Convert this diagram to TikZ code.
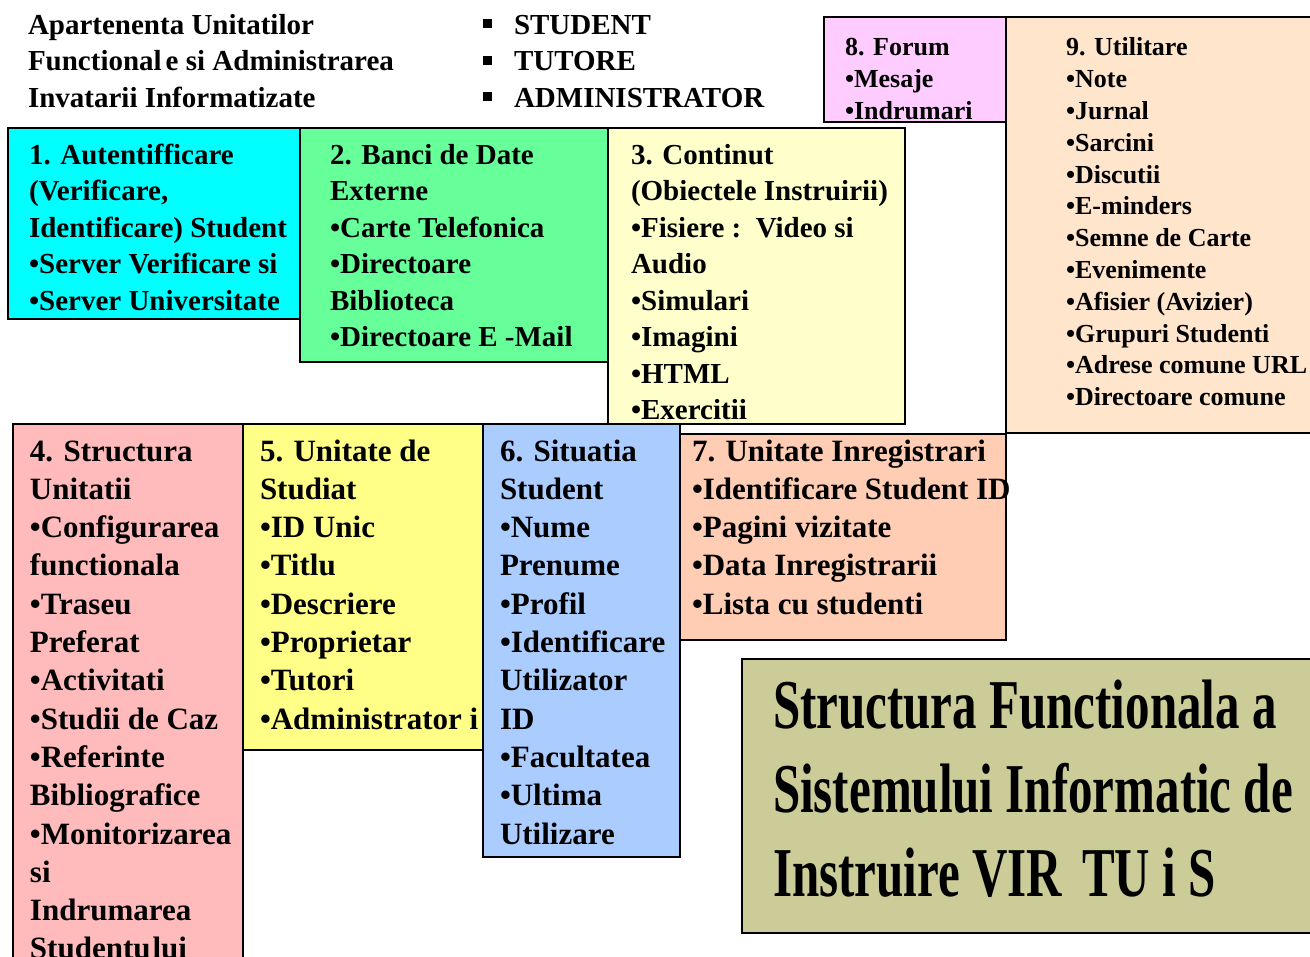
\documentclass[tikz,border=0pt]{standalone}
\usepackage{fontspec}
\setmainfont{Liberation Serif}
\newfontfamily\condfont[FakeStretch=0.70]{Liberation Serif}
\definecolor{cCyan}{HTML}{00FFFF}
\definecolor{cGreen}{HTML}{66FF99}
\definecolor{cLightYellow}{HTML}{FFFFCC}
\definecolor{cForum}{HTML}{FFCCFF}
\definecolor{cUtil}{HTML}{FFE5CC}
\definecolor{cStruct}{HTML}{FFBBBB}
\definecolor{cUnit}{HTML}{FFFF88}
\definecolor{cSit}{HTML}{AACCFF}
\definecolor{cReg}{HTML}{FFCCB4}
\definecolor{cTitle}{HTML}{CCCC99}
\tikzset{
  boxnode/.style={draw=black, line width=2pt, anchor=north west, inner sep=0pt, outer sep=0pt},
  txtbase/.style={anchor=north west, inner sep=0pt, outer sep=0pt, align=left},
  txtA/.style={txtbase, font=\bfseries\fontsize{29}{36.5}\selectfont},
  txtB/.style={txtbase, font=\bfseries\fontsize{31}{38.3}\selectfont},
  txtC/.style={txtbase, font=\bfseries\fontsize{26}{31.8}\selectfont},
  txtT/.style={txtbase, font=\condfont\bfseries\fontsize{70}{84}\selectfont},
}
\newcommand{\sqbul}{\raisebox{6pt}{\rule{9pt}{9pt}}\hspace{22pt}}
\begin{document}
\begin{tikzpicture}[x=1pt,y=-1pt]
\useasboundingbox (0,0) rectangle (1310,957);
\clip (0,0) rectangle (1310,957);

% header texts
\node[txtA] (head) at (28,8.5) {\strut Apartenenta Unitatilor\\Functional\hspace{4pt}e si Administrarea\\Invatarii Informatizate};
\node[txtA] (roles) at (483,8.5) {\strut\sqbul STUDENT\\\sqbul TUTORE\\\sqbul ADMINISTRATOR};

% boxes
\node[boxnode, fill=cUtil, minimum width=320pt, minimum height=416pt] (b9) at (1006,17) {};
\node[boxnode, fill=cForum, minimum width=182pt, minimum height=105pt] (b8) at (824,17) {};
\node[boxnode, fill=cCyan, minimum width=292pt, minimum height=191pt] (b1) at (8,128) {};
\node[boxnode, fill=cGreen, minimum width=308pt, minimum height=234pt] (b2) at (300,128) {};
\node[boxnode, fill=cLightYellow, minimum width=297pt, minimum height=296pt] (b3) at (608,128) {};
\node[boxnode, fill=cStruct, minimum width=230pt, minimum height=560pt] (b4) at (13,424) {};
\node[boxnode, fill=cUnit, minimum width=240pt, minimum height=326pt] (b5) at (243,424) {};
\node[boxnode, fill=cSit, minimum width=197pt, minimum height=433pt] (b6) at (483,424) {};
\node[boxnode, fill=cReg, minimum width=326pt, minimum height=206pt] (b7) at (680,434) {};
\node[boxnode, fill=cTitle, minimum width=590pt, minimum height=274pt] (bt) at (742,659) {};

% box texts
\node[txtC] (t8) at (845,33.7) {\strut 8. Forum\\•Mesaje\\•Indrumari};
\node[txtC] (t9) at (1066,33.7) {\strut 9. Utilitare\\•Note\\•Jurnal\\•Sarcini\\•Discutii\\•E-minders\\•Semne de Carte\\•Evenimente\\•Afisier (Avizier)\\•Grupuri Studenti\\•Adrese comune URL\\•Directoare comune};
\node[txtA] (t1) at (29,138.5) {\strut 1. Autentifficare\\(Verificare,\\Identificare) Student\\•Server Verificare si\\•Server Universitate};
\node[txtA] (t2) at (330,138.5) {\strut 2. Banci de Date\\Externe\\•Carte Telefonica\\•Directoare\\Biblioteca\\•Directoare E -Mail};
\node[txtA] (t3) at (631,138.5) {\strut 3. Continut\\(Obiectele Instruirii)\\•Fisiere :\ \ Video si\\Audio\\•Simulari\\•Imagini\\•HTML\\•Exercitii};
\node[txtB] (t4) at (30,434.2) {\strut 4. Structura\\Unitatii\\•Configurarea\\functionala\\•Traseu\\Preferat\\•Activitati\\•Studii de Caz\\•Referinte\\Bibliografice\\•Monitorizarea\\si\\Indrumarea\\Studentu\hspace{2pt}lui};
\node[txtB] (t5) at (260,434.2) {\strut 5. Unitate de\\Studiat\\•ID Unic\\•Titlu\\•Descriere\\•Proprietar\\•Tutori\\•Administrator i};
\node[txtB] (t6) at (500,434.2) {\strut 6. Situatia\\Student\\•Nume\\Prenume\\•Profil\\•Identificare\\Utilizator\\ID\\•Facultatea\\•Ultima\\Utilizare};
\node[txtB] (t7) at (692,434.2) {\strut 7. Unitate Inregistrari\\•Identificare Student ID\\•Pagini vizitate\\•Data Inregistrarii\\•Lista cu studenti};
\node[txtT] (tt) at (773,669.2) {\strut Structura Functionala a\\Sistemului Informatic de\\Instruire VIR\hspace{20pt}TU i S};
\end{tikzpicture}
\end{document}
